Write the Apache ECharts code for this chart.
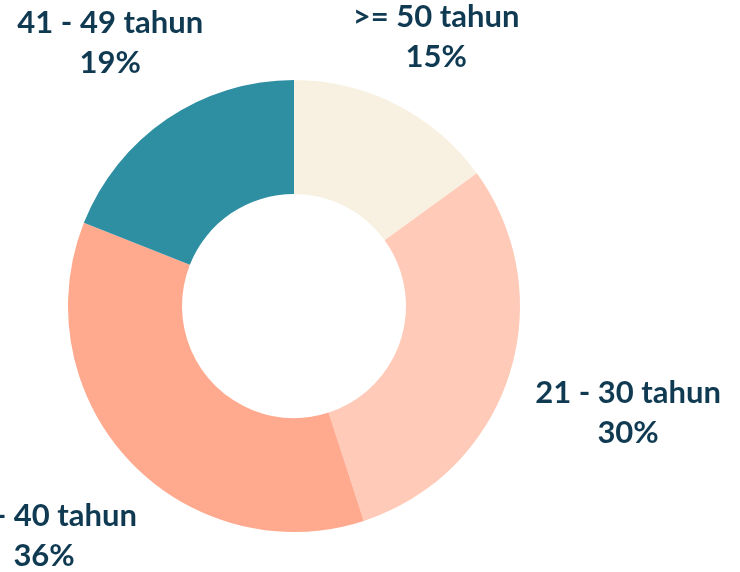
<!DOCTYPE html>
<html>
<head>
<meta charset="utf-8">
<script src="https://cdn.jsdelivr.net/npm/echarts@6/dist/echarts.min.js"></script>
<style>
html,body{margin:0;padding:0;background:#fff;}
#chart{width:740px;height:572px;}
</style>
</head>
<body>
<div id="chart"></div>
<script>
var categories = ['>= 50 tahun', '21 - 30 tahun', '31 - 40 tahun', '41 - 49 tahun'];
var values = [15, 30, 36, 19];
var colors = ['#F8F1E2', '#FFCAB8', '#FFAA8F', '#2E8FA3'];
var labelDistances = [76, 120, 110, 92];

var chart = echarts.init(document.getElementById('chart'));
var data = categories.map(function (c, i) {
  return {
    name: c,
    value: values[i],
    itemStyle: { color: colors[i] },
    labelLine: { show: false, length: labelDistances[i], length2: 0 }
  };
});
chart.setOption({
  animation: false,
  series: [{
    type: 'pie',
    left: -300, right: -300, top: -300, bottom: -300,
    center: [594, 606],
    radius: [112, 226],
    startAngle: 90,
    clockwise: true,
    avoidLabelOverlap: false,
    data: data,
    label: {
      show: true,
      position: 'outside',
      width: 300,
      formatter: function (p) { return p.name + '\n' + p.value + '%'; },
      fontFamily: 'Lato',
      fontWeight: 'bold',
      fontSize: 31,
      lineHeight: 40,
      color: '#0F3A52'
    },
    labelLine: { show: false },
    labelLayout: { align: 'center', verticalAlign: 'middle' }
  }]
});
</script>
</body>
</html>
